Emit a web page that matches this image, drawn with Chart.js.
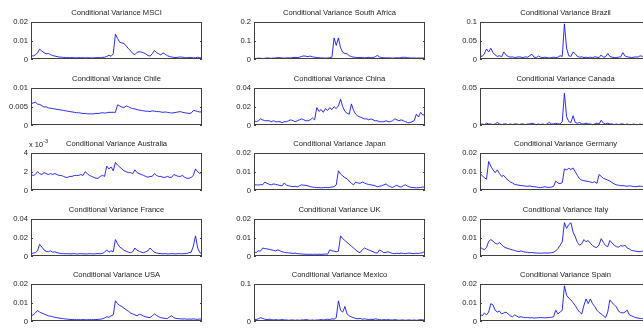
<!DOCTYPE html>
<html lang="en">
<head>
    <meta charset="UTF-8">
    <title>Conditional Variance</title>
    <script src="https://cdn.jsdelivr.net/npm/chart.js"></script>
    <style>
        html, body { margin: 0; padding: 0; background: #fff; overflow: hidden; }
        body { width: 643px; height: 329px; position: relative; }
        .panel { position: absolute; }
        .expo { position: absolute; font: 7.5px "Liberation Sans", Arial, sans-serif; color: #1a1a1a; }
        .expo sup { font-size: 5.5px; }
    </style>
</head>
<body>
    <script>
        // conditional variance series, one value per period
        var msci = [0.0022,0.0018,0.0025,0.0035,0.0055,0.0045,0.0036,0.0030,0.0032,0.0026,
            0.0021,0.0018,0.0015,0.0013,0.0012,0.0011,0.0010,0.0010,0.0009,0.0010,
            0.0009,0.0009,0.0010,0.0009,0.0009,0.0008,0.0009,0.0009,0.0008,0.0009,
            0.0009,0.0010,0.0009,0.0011,0.0012,0.0016,0.0022,0.0017,0.0030,0.0135,
            0.0112,0.0092,0.0088,0.0085,0.0072,0.0058,0.0046,0.0032,0.0026,0.0038,
            0.0041,0.0039,0.0036,0.0029,0.0021,0.0018,0.0030,0.0048,0.0036,0.0030,
            0.0024,0.0035,0.0028,0.0020,0.0016,0.0013,0.0011,0.0010,0.0012,0.0013,
            0.0012,0.0010,0.0009,0.0010,0.0011,0.0008,0.0009,0.0012,0.0009,0.0008];
        var southAfrica = [0.006,0.005,0.007,0.006,0.005,0.006,0.008,0.007,0.006,0.007,
            0.008,0.010,0.009,0.008,0.007,0.008,0.009,0.008,0.010,0.011,
            0.010,0.012,0.016,0.019,0.017,0.015,0.018,0.014,0.012,0.010,
            0.009,0.008,0.008,0.007,0.008,0.009,0.012,0.115,0.075,0.115,
            0.062,0.038,0.032,0.030,0.020,0.015,0.012,0.011,0.010,0.011,
            0.010,0.009,0.010,0.011,0.009,0.010,0.014,0.022,0.013,0.010,
            0.009,0.008,0.009,0.008,0.007,0.008,0.009,0.008,0.010,0.012,
            0.011,0.009,0.008,0.007,0.008,0.007,0.008,0.007,0.008,0.007];
        var brazil = [0.010,0.008,0.015,0.028,0.020,0.030,0.018,0.012,0.008,0.010,
            0.007,0.020,0.012,0.008,0.006,0.007,0.005,0.006,0.007,0.006,
            0.005,0.007,0.006,0.010,0.014,0.006,0.005,0.009,0.006,0.005,
            0.006,0.005,0.004,0.005,0.006,0.005,0.006,0.010,0.008,0.095,
            0.030,0.010,0.008,0.020,0.015,0.008,0.006,0.007,0.005,0.006,
            0.005,0.006,0.005,0.007,0.006,0.005,0.012,0.006,0.007,0.016,
            0.008,0.006,0.005,0.005,0.006,0.007,0.018,0.009,0.007,0.006,
            0.005,0.006,0.007,0.006,0.010,0.008,0.009,0.008,0.007,0.006];
        var chile = [0.0058,0.0060,0.0062,0.0057,0.0056,0.0053,0.0049,0.0050,0.0047,0.0046,
            0.0045,0.0044,0.0043,0.0042,0.0041,0.0040,0.0039,0.0038,0.0037,0.0036,
            0.0035,0.0034,0.0034,0.0033,0.0032,0.0032,0.0031,0.0031,0.0031,0.0031,
            0.0032,0.0032,0.0033,0.0034,0.0033,0.0034,0.0035,0.0035,0.0035,0.0035,
            0.0055,0.0052,0.0049,0.0048,0.0052,0.0050,0.0047,0.0045,0.0044,0.0042,
            0.0041,0.0040,0.0039,0.0038,0.0038,0.0037,0.0039,0.0038,0.0037,0.0037,
            0.0036,0.0035,0.0036,0.0035,0.0034,0.0033,0.0034,0.0035,0.0036,0.0037,
            0.0035,0.0034,0.0033,0.0032,0.0033,0.0040,0.0039,0.0037,0.0036,0.0036];
        var china = [0.005,0.004,0.005,0.007,0.006,0.005,0.005,0.005,0.004,0.005,
            0.004,0.004,0.004,0.003,0.004,0.004,0.005,0.006,0.005,0.004,
            0.005,0.006,0.007,0.006,0.005,0.005,0.006,0.008,0.006,0.019,
            0.015,0.017,0.014,0.018,0.016,0.019,0.017,0.020,0.018,0.021,
            0.028,0.020,0.015,0.013,0.012,0.023,0.016,0.012,0.010,0.009,
            0.008,0.007,0.007,0.006,0.007,0.006,0.005,0.005,0.004,0.004,
            0.004,0.005,0.004,0.004,0.005,0.007,0.006,0.005,0.006,0.005,
            0.004,0.003,0.003,0.004,0.005,0.012,0.009,0.014,0.011,0.012];
        var canada = [0.001,0.002,0.001,0.003,0.002,0.002,0.001,0.002,0.004,0.002,
            0.001,0.002,0.002,0.001,0.002,0.001,0.002,0.002,0.001,0.002,
            0.002,0.001,0.002,0.002,0.003,0.002,0.001,0.002,0.001,0.002,
            0.001,0.002,0.004,0.002,0.002,0.003,0.002,0.002,0.005,0.043,
            0.012,0.005,0.004,0.013,0.004,0.003,0.004,0.002,0.002,0.003,
            0.002,0.002,0.001,0.002,0.003,0.002,0.007,0.003,0.002,0.003,
            0.002,0.002,0.001,0.002,0.001,0.002,0.002,0.001,0.002,0.001,
            0.001,0.002,0.001,0.001,0.002,0.001,0.001,0.002,0.001,0.001];
        var australia = [0.0017,0.0016,0.0017,0.0020,0.0018,0.0017,0.0019,0.0018,0.0017,0.0018,
            0.0017,0.0018,0.0017,0.0016,0.0016,0.0015,0.0014,0.0014,0.0015,0.0015,
            0.0016,0.0016,0.0016,0.0017,0.0016,0.0020,0.0018,0.0016,0.0015,0.0014,
            0.0013,0.0013,0.0015,0.0016,0.0015,0.0026,0.0023,0.0025,0.0021,0.0030,
            0.0027,0.0025,0.0023,0.0021,0.0020,0.0019,0.0019,0.0018,0.0022,0.0019,
            0.0018,0.0017,0.0016,0.0015,0.0014,0.0015,0.0015,0.0018,0.0016,0.0015,
            0.0015,0.0014,0.0014,0.0015,0.0014,0.0014,0.0017,0.0016,0.0015,0.0015,
            0.0016,0.0014,0.0013,0.0013,0.0014,0.0016,0.0023,0.0020,0.0018,0.0020];
        var japan = [0.0030,0.0030,0.0029,0.0031,0.0030,0.0045,0.0038,0.0033,0.0030,0.0035,
            0.0032,0.0030,0.0026,0.0025,0.0040,0.0028,0.0025,0.0022,0.0020,0.0022,
            0.0019,0.0025,0.0030,0.0028,0.0027,0.0024,0.0020,0.0018,0.0016,0.0015,
            0.0015,0.0014,0.0015,0.0016,0.0015,0.0016,0.0018,0.0020,0.0030,0.0105,
            0.0088,0.0078,0.0068,0.0062,0.0050,0.0038,0.0030,0.0045,0.0040,0.0038,
            0.0045,0.0040,0.0035,0.0032,0.0030,0.0028,0.0024,0.0020,0.0022,0.0025,
            0.0030,0.0035,0.0025,0.0020,0.0016,0.0022,0.0028,0.0020,0.0018,0.0025,
            0.0030,0.0022,0.0018,0.0016,0.0015,0.0014,0.0015,0.0016,0.0018,0.0018];
        var germany = [0.0090,0.0080,0.0068,0.0060,0.0155,0.0130,0.0110,0.0095,0.0110,0.0090,
            0.0075,0.0080,0.0065,0.0055,0.0045,0.0040,0.0032,0.0030,0.0028,0.0026,
            0.0025,0.0023,0.0022,0.0024,0.0021,0.0020,0.0019,0.0016,0.0015,0.0017,
            0.0020,0.0017,0.0016,0.0018,0.0022,0.0050,0.0040,0.0036,0.0042,0.0115,
            0.0110,0.0118,0.0112,0.0120,0.0100,0.0080,0.0062,0.0055,0.0052,0.0050,
            0.0048,0.0045,0.0042,0.0046,0.0038,0.0085,0.0075,0.0065,0.0060,0.0055,
            0.0050,0.0042,0.0035,0.0030,0.0028,0.0025,0.0026,0.0024,0.0022,0.0025,
            0.0023,0.0021,0.0020,0.0022,0.0024,0.0020,0.0018,0.0020,0.0022,0.0021];
        var france = [0.0030,0.0035,0.0040,0.0060,0.0130,0.0100,0.0070,0.0055,0.0050,0.0060,
            0.0045,0.0050,0.0040,0.0035,0.0030,0.0030,0.0028,0.0030,0.0027,0.0028,
            0.0030,0.0026,0.0028,0.0030,0.0027,0.0028,0.0026,0.0030,0.0028,0.0027,
            0.0029,0.0030,0.0028,0.0032,0.0045,0.0070,0.0045,0.0060,0.0050,0.0180,
            0.0135,0.0100,0.0085,0.0065,0.0055,0.0045,0.0040,0.0050,0.0090,0.0065,
            0.0055,0.0045,0.0040,0.0050,0.0060,0.0090,0.0065,0.0045,0.0038,0.0032,
            0.0030,0.0028,0.0030,0.0027,0.0028,0.0030,0.0028,0.0027,0.0030,0.0029,
            0.0028,0.0030,0.0032,0.0040,0.0045,0.0110,0.0220,0.0090,0.0040,0.0030];
        var uk = [0.0025,0.0020,0.0030,0.0028,0.0045,0.0042,0.0040,0.0038,0.0035,0.0032,
            0.0030,0.0035,0.0030,0.0025,0.0022,0.0020,0.0019,0.0018,0.0016,0.0018,
            0.0015,0.0014,0.0013,0.0012,0.0012,0.0011,0.0012,0.0011,0.0012,0.0011,
            0.0012,0.0011,0.0012,0.0013,0.0012,0.0035,0.0030,0.0028,0.0025,0.0028,
            0.0110,0.0095,0.0085,0.0075,0.0065,0.0055,0.0045,0.0035,0.0025,0.0020,
            0.0035,0.0045,0.0040,0.0035,0.0030,0.0025,0.0020,0.0018,0.0035,0.0028,
            0.0020,0.0022,0.0025,0.0020,0.0016,0.0015,0.0017,0.0015,0.0018,0.0016,
            0.0015,0.0017,0.0018,0.0016,0.0015,0.0017,0.0016,0.0018,0.0020,0.0030];
        var italy = [0.0050,0.0042,0.0036,0.0048,0.0080,0.0090,0.0082,0.0070,0.0066,0.0075,
            0.0062,0.0052,0.0046,0.0042,0.0038,0.0035,0.0032,0.0028,0.0026,0.0030,
            0.0025,0.0023,0.0022,0.0020,0.0021,0.0019,0.0018,0.0018,0.0017,0.0018,
            0.0019,0.0018,0.0019,0.0020,0.0022,0.0030,0.0042,0.0060,0.0078,0.0180,
            0.0150,0.0170,0.0180,0.0130,0.0105,0.0075,0.0060,0.0068,0.0090,0.0078,
            0.0085,0.0070,0.0058,0.0050,0.0048,0.0062,0.0095,0.0075,0.0058,0.0052,
            0.0085,0.0072,0.0060,0.0052,0.0050,0.0058,0.0055,0.0060,0.0045,0.0040,
            0.0032,0.0030,0.0028,0.0026,0.0025,0.0028,0.0030,0.0028,0.0026,0.0025];
        var usa = [0.0030,0.0035,0.0045,0.0058,0.0050,0.0045,0.0040,0.0035,0.0030,0.0028,
            0.0025,0.0022,0.0020,0.0018,0.0016,0.0015,0.0013,0.0012,0.0011,0.0010,
            0.0010,0.0009,0.0010,0.0009,0.0010,0.0009,0.0009,0.0010,0.0009,0.0010,
            0.0010,0.0011,0.0012,0.0014,0.0018,0.0025,0.0022,0.0030,0.0035,0.0110,
            0.0095,0.0085,0.0080,0.0070,0.0062,0.0055,0.0045,0.0040,0.0035,0.0030,
            0.0038,0.0035,0.0028,0.0025,0.0022,0.0020,0.0030,0.0040,0.0032,0.0025,
            0.0020,0.0018,0.0016,0.0015,0.0025,0.0030,0.0020,0.0016,0.0015,0.0014,
            0.0013,0.0014,0.0012,0.0013,0.0012,0.0014,0.0012,0.0011,0.0013,0.0012];
        var mexico = [0.006,0.005,0.007,0.010,0.008,0.006,0.005,0.006,0.005,0.004,
            0.005,0.004,0.004,0.005,0.004,0.004,0.003,0.004,0.004,0.003,
            0.004,0.003,0.004,0.004,0.005,0.004,0.003,0.004,0.003,0.004,
            0.004,0.005,0.004,0.005,0.006,0.005,0.007,0.006,0.010,0.055,
            0.030,0.025,0.040,0.020,0.015,0.012,0.010,0.008,0.007,0.008,
            0.006,0.007,0.006,0.005,0.006,0.005,0.007,0.006,0.005,0.004,
            0.005,0.004,0.005,0.004,0.004,0.005,0.004,0.003,0.004,0.004,
            0.003,0.004,0.004,0.003,0.004,0.003,0.004,0.005,0.004,0.004];
        var spain = [0.0042,0.0030,0.0045,0.0035,0.0050,0.0095,0.0088,0.0060,0.0050,0.0055,
            0.0040,0.0045,0.0050,0.0040,0.0030,0.0025,0.0035,0.0028,0.0022,0.0025,
            0.0022,0.0020,0.0021,0.0019,0.0020,0.0018,0.0019,0.0020,0.0021,0.0020,
            0.0019,0.0020,0.0021,0.0022,0.0025,0.0060,0.0040,0.0050,0.0060,0.0190,
            0.0140,0.0125,0.0115,0.0100,0.0085,0.0065,0.0050,0.0040,0.0085,0.0120,
            0.0095,0.0120,0.0095,0.0080,0.0060,0.0048,0.0040,0.0030,0.0020,0.0050,
            0.0115,0.0100,0.0090,0.0078,0.0055,0.0048,0.0045,0.0050,0.0060,0.0035,
            0.0030,0.0025,0.0020,0.0018,0.0016,0.0015,0.0017,0.0019,0.0020,0.0022];

        // y tick values per panel
        var ticks002 = [0, 0.01, 0.02];
        var ticks004 = [0, 0.02, 0.04];
        var ticks001 = [0, 0.005, 0.01];
        var ticks01 = [0, 0.05, 0.1];
        var ticks01b = [0, 0.1];
        var ticks02 = [0, 0.1, 0.2];
        var ticks005 = [0, 0.05];
        var ticksAus = [0, 0.002, 0.004];

        var countries = ['MSCI', 'South Africa', 'Brazil', 'Chile', 'China', 'Canada',
            'Australia', 'Japan', 'Germany', 'France', 'UK', 'Italy', 'USA', 'Mexico', 'Spain'];
        var series = [msci, southAfrica, brazil, chile, china, canada,
            australia, japan, germany, france, uk, italy, usa, mexico, spain];
        var yTicks = [ticks002, ticks02, ticks01, ticks001, ticks004, ticks005,
            ticksAus, ticks002, ticks002, ticks004, ticks002, ticks002, ticks002, ticks01b, ticks002];

        var periods = msci.map(function (v, i) { return i + 1; });

        var colLeft = [31, 254, 480];
        var rowTop = [22, 88, 153, 219, 284];
        var plotW = 171, plotH = 39;
        var side = 31, titleH = 13, bottomPad = 6;
        var font = '"Liberation Sans", Arial, Helvetica, sans-serif';

        // MATLAB style box with inward tick marks
        var boxPlugin = {
            id: 'box',
            afterDraw: function (chart) {
                var ctx = chart.ctx, a = chart.chartArea, y = chart.scales.y;
                ctx.save();
                ctx.strokeStyle = '#404040';
                ctx.lineWidth = 1;
                ctx.strokeRect(Math.round(a.left) + 0.5, Math.round(a.top) + 0.5,
                    Math.round(a.width) - 1, Math.round(a.height) - 1);
                ctx.beginPath();
                y.ticks.forEach(function (t) {
                    var py = Math.round(y.getPixelForValue(t.value)) + 0.5;
                    ctx.moveTo(a.left, py); ctx.lineTo(a.left + 2, py);
                    ctx.moveTo(a.right - 2, py); ctx.lineTo(a.right, py);
                });
                ctx.stroke();
                ctx.restore();
            }
        };

        countries.forEach(function (name, k) {
            var col = k % 3, row = Math.floor(k / 3);
            var tickVals = yTicks[k];
            var isAus = name === 'Australia';

            var div = document.createElement('div');
            div.className = 'panel';
            div.style.left = (colLeft[col] - side) + 'px';
            div.style.top = (rowTop[row] - titleH) + 'px';
            var canvas = document.createElement('canvas');
            canvas.width = side * 2 + plotW;
            canvas.height = titleH + plotH + bottomPad;
            div.appendChild(canvas);
            document.body.appendChild(div);

            if (isAus) {
                var ex = document.createElement('div');
                ex.className = 'expo';
                ex.style.left = (colLeft[col] - 2) + 'px';
                ex.style.top = (rowTop[row] - 15) + 'px';
                ex.innerHTML = 'x 10<sup>-3</sup>';
                document.body.appendChild(ex);
            }

            new Chart(canvas.getContext('2d'), {
                type: 'line',
                data: {
                    labels: periods,
                    datasets: [{
                        data: series[k],
                        borderColor: '#1414ff',
                        borderWidth: 0.9,
                        pointRadius: 0,
                        tension: 0,
                        fill: false
                    }]
                },
                options: {
                    responsive: false,
                    animation: false,
                    devicePixelRatio: 1,
                    layout: { padding: { top: 0, left: 0, right: 0, bottom: bottomPad } },
                    plugins: {
                        legend: { display: false },
                        tooltip: { enabled: false },
                        title: {
                            display: true,
                            text: 'Conditional Variance ' + name,
                            color: '#1a1a1a',
                            font: { family: font, size: 7.6, weight: 'normal', lineHeight: '8px' },
                            padding: { top: 0, bottom: 5 }
                        }
                    },
                    scales: {
                        x: { display: false },
                        y: {
                            min: 0,
                            max: tickVals[tickVals.length - 1],
                            grid: { display: false, drawTicks: false },
                            border: { display: false },
                            afterBuildTicks: function (s) {
                                s.ticks = tickVals.map(function (v) { return { value: v }; });
                            },
                            afterFit: function (s) { s.width = side; },
                            ticks: {
                                autoSkip: false,
                                padding: 3,
                                color: '#1a1a1a',
                                font: { family: font, size: 7.6 },
                                callback: function (v) {
                                    if (isAus) return String(Math.round(v * 1000));
                                    return String(+v.toFixed(4));
                                }
                            }
                        },
                        yR: {
                            position: 'right',
                            display: true,
                            grid: { display: false, drawTicks: false },
                            border: { display: false },
                            ticks: { display: false },
                            afterFit: function (s) { s.width = side; }
                        }
                    }
                },
                plugins: [boxPlugin]
            });
        });
    </script>
</body>
</html>
